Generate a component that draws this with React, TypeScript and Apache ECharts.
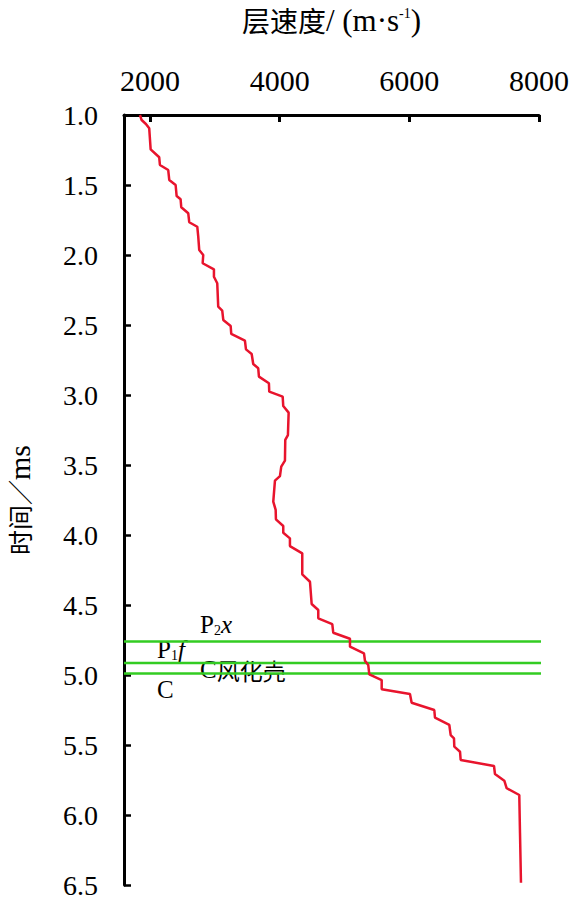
import React, { useEffect, useRef } from "react";
import * as echarts from "echarts";

// Layer velocity (m/s) vs time (ms)
const velocity = [
  1846, 1872, 1938, 1989, 2011, 2143, 2154, 2282, 2298, 2396, 2412, 2473, 2483, 2591, 2606, 2730,
  2745, 2760, 2822, 2813, 2987, 2987, 3038, 3053, 3115, 3131, 3245, 3254, 3465, 3481, 3569, 3593,
  3670, 3681, 3835, 3840, 4047, 4056, 4139, 4128, 4087, 4082, 4025, 4005, 3928, 3902, 3939, 3943,
  4056, 4056, 4159, 4159, 4349, 4349, 4468, 4494, 4596, 4596, 4812, 4827, 5085, 5085, 5301, 5316,
  5367, 5383, 5574, 5574, 6010, 6036, 6385, 6396, 6617, 6638, 6689, 6694, 6782, 6792, 7306, 7321,
  7465, 7502, 7696, 7707, 7722,
];
const time = [
  1.0, 1.036, 1.064, 1.095, 1.245, 1.302, 1.357, 1.393, 1.464, 1.5, 1.579, 1.602, 1.659, 1.702, 1.766, 1.798,
  1.869, 1.964, 2.0, 2.059, 2.102, 2.155, 2.202, 2.369, 2.398, 2.464, 2.507, 2.564, 2.612, 2.674, 2.707, 2.779,
  2.809, 2.869, 2.916, 2.976, 3.012, 3.079, 3.126, 3.286, 3.321, 3.469, 3.512, 3.579, 3.612, 3.762, 3.821, 3.888,
  3.936, 3.984, 4.024, 4.079, 4.131, 4.281, 4.334, 4.493, 4.536, 4.595, 4.636, 4.698, 4.741, 4.798, 4.845, 4.898,
  4.929, 4.995, 5.036, 5.102, 5.136, 5.198, 5.25, 5.305, 5.357, 5.429, 5.452, 5.512, 5.548, 5.607, 5.65, 5.707,
  5.755, 5.809, 5.857, 6.129, 6.484,
];

// Formation boundaries (time, ms)
const boundaries = [4.76, 4.915, 4.99];

const xTicks = [2000, 4000, 6000, 8000];
const xMin = 1600;
const xMax = 8000;
const yMin = 1.0;
const yMax = 6.5;
const yStep = 0.5;
const boundaryEndX = 8470;

const SERIF = "'Liberation Serif', 'Times New Roman', serif";
const CJK = "'Noto Sans CJK SC', sans-serif";

export default function App() {
  const ref = useRef<HTMLDivElement>(null);

  useEffect(() => {
    document.body.style.margin = "0";
    if (!ref.current) return;
    const chart = echarts.init(ref.current, null, { renderer: "svg" });

    const lineSeries: any[] = [
      {
        type: "line",
        data: velocity.map((v, i) => [v, time[i]]),
        showSymbol: false,
        symbol: "none",
        lineStyle: { color: "#e8142d", width: 2.5 },
        z: 3,
      },
      ...boundaries.map((b) => ({
        type: "line",
        data: [
          [xMin, b],
          [boundaryEndX, b],
        ],
        clip: false,
        showSymbol: false,
        symbol: "none",
        lineStyle: { color: "#33cc22", width: 2.5 },
        z: 2,
      })),
    ];

    const subRich = {
      n: { fontFamily: SERIF, fontSize: 25, fill: "#000" },
      sub: { fontFamily: SERIF, fontSize: 14, fill: "#000", verticalAlign: "bottom" },
      i: { fontFamily: SERIF, fontSize: 25, fontStyle: "italic", fill: "#000" },
    };

    chart.setOption({
      animation: false,
      backgroundColor: "#fff",
      grid: {
        left: 124,
        right: 30,
        top: 115,
        bottom: 12,
        containLabel: false,
        outerBoundsMode: "none",
      },
      xAxis: {
        type: "value",
        position: "top",
        min: xMin,
        max: xMax,
        name: "{c|层速度}{t|/ (m·s}{sup|-1}{t|)}",
        nameLocation: "middle",
        nameGap: 81,
        nameTextStyle: {
          fontFamily: SERIF,
          fontSize: 28,
          color: "#000",
          lineHeight: 28,
          rich: {
            c: { fontFamily: CJK, fontSize: 28, color: "#000", lineHeight: 28 },
            t: { fontFamily: SERIF, fontSize: 31, color: "#000", lineHeight: 28 },
            sup: { fontFamily: SERIF, fontSize: 14, color: "#000", verticalAlign: "top", lineHeight: 28 },
          },
        },
        axisLine: { show: true, onZero: false, lineStyle: { color: "#000", width: 3 } },
        axisTick: {
          show: true,
          inside: true,
          length: 7,
          customValues: xTicks,
          lineStyle: { color: "#000", width: 3 },
        },
        axisLabel: {
          customValues: xTicks,
          fontFamily: SERIF,
          fontSize: 30,
          color: "#000",
          margin: 20,
          formatter: (v: number) => String(v),
        },
        splitLine: { show: false },
      },
      yAxis: {
        type: "value",
        inverse: true,
        min: yMin,
        max: yMax,
        interval: yStep,
        name: "{c|时间／}{t|ms}",
        nameLocation: "middle",
        nameRotate: 90,
        nameGap: 92,
        nameTextStyle: {
          fontFamily: SERIF,
          fontSize: 25,
          color: "#000",
          lineHeight: 26,
          rich: {
            c: { fontFamily: CJK, fontSize: 25, color: "#000", lineHeight: 26 },
            t: { fontFamily: SERIF, fontSize: 30, color: "#000", lineHeight: 26 },
          },
        },
        axisLine: { show: true, onZero: false, lineStyle: { color: "#000", width: 3 } },
        axisTick: { show: true, inside: true, length: 7, lineStyle: { color: "#000", width: 2.5 } },
        axisLabel: {
          fontFamily: SERIF,
          fontSize: 28,
          lineHeight: 22,
          color: "#000",
          margin: 26,
          formatter: (v: number) => v.toFixed(1),
        },
        splitLine: { show: false },
      },
      series: lineSeries,
      graphic: [
        {
          type: "text",
          left: 200,
          top: 612,
          style: { text: "{n|P}{sub|2}{i|x}", rich: subRich },
        },
        {
          type: "text",
          left: 157,
          top: 637,
          style: { text: "{n|P}{sub|1}{i|f}", rich: subRich },
        },
        {
          type: "text",
          left: 200,
          top: 657,
          style: {
            text: "{n|C}{c|风化壳}",
            rich: {
              n: { fontFamily: SERIF, fontSize: 25, fill: "#000" },
              c: { fontFamily: CJK, fontSize: 23, fill: "#000" },
            },
          },
        },
        {
          type: "text",
          left: 157,
          top: 677,
          style: { text: "C", fontFamily: SERIF, fontSize: 25, fill: "#000" },
        },
      ],
    });

    return () => chart.dispose();
  }, []);

  return <div ref={ref} style={{ width: 569, height: 897 }} />;
}
